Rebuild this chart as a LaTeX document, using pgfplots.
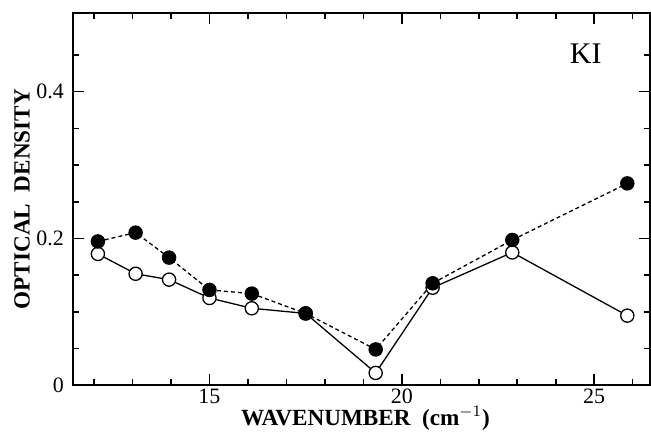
\documentclass[border=0pt]{standalone}
\usepackage{pgfplots}
\pgfplotsset{compat=1.18}
\usepackage{fontspec}
\setmainfont{Liberation Serif}
\begin{document}
\begin{tikzpicture}
\begin{axis}[
  scale only axis,
  width=289pt, height=186.5pt,
  xmin=11.45, xmax=26.45, ymin=0, ymax=0.507,
  axis line style={line width=1pt},
  xtick={15,20,25}, minor xtick={12,13,...,26},
  ytick={0,0.2,0.4}, minor ytick={0.05,0.1,...,0.46},
  tick align=inside,
  major tick length=5.5pt, minor tick length=3pt,
  every tick/.style={black, line width=0.8pt},
  /pgf/number format/assume math mode=true,
  ticklabel style={font=\fontsize{11}{13}\selectfont},
  yticklabel style={xshift=-1pt},
  xticklabel style={yshift=1.8pt},
  xlabel={\textbf{WAVENUMBER\ \ (cm$^{-1}$)}},
  ylabel={\textbf{OPTICAL\ \ DENSITY}},
  label style={font=\fontsize{11.6}{13}\selectfont},
  xlabel style={at={(axis description cs:0.507,-0.108)}, anchor=base},
  ylabel style={at={(axis description cs:-0.088,0.5)}, anchor=center, rotate=0},
]
\addplot[black, line width=0.65pt, mark=*, mark size=3.3pt,
  mark options={solid, fill=white, draw=black, line width=0.65pt}]
  coordinates {(12.1,0.179)(13.08,0.152)(13.95,0.144)(15.0,0.119)(16.1,0.105)(17.5,0.098)(19.32,0.017)(20.8,0.133)(22.87,0.181)(25.86,0.095)};
\addplot[black, line width=0.65pt, dash pattern=on 2pt off 1.5pt, mark=*, mark size=3.3pt,
  mark options={solid, fill=black}]
  coordinates {(12.1,0.196)(13.08,0.208)(13.95,0.174)(15.0,0.130)(16.1,0.125)(17.5,0.098)(19.32,0.049)(20.8,0.139)(22.87,0.198)(25.86,0.275)};
\node[font=\fontsize{15}{17}\selectfont] at (axis cs:24.78,0.452) {KI};
\end{axis}
\pgfresetboundingbox
\path[use as bounding box] ([xshift=-36.5pt,yshift=-25pt]current axis.south west) rectangle ([xshift=0.5pt,yshift=6.5pt]current axis.north east);
\end{tikzpicture}
\end{document}
